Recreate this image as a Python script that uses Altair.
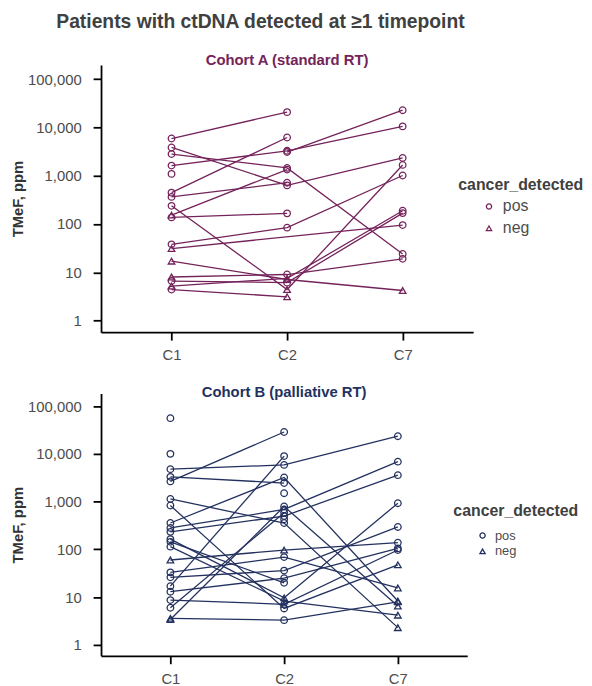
import altair as alt
import pandas as pd

TIMEPOINTS = ["C1", "C2", "C7"]

# Cohort A (standard RT): one entry per patient, None = no sample
A_C1 = [5890, 3850, 2810, 1620, 1090, 446, 364, 238, 153, 137, 38, 31, 17, 8.0, 6.6, 5.2, 4.4, None]
A_C2 = [20700, 630, 1450, 3280, None, 6180, 716, 4.4, 1340, 166, 84, None, 7.1, 9.0, 6.1, 7.5, 3.1, 3090]
A_C7 = [None, 2330, 24, 10500, None, None, None, 1670, None, None, 1010, 95, 4.2, 19, 168, 188, None, 22700]
A_S1 = ["pos", "pos", "pos", "pos", "pos", "pos", "pos", "pos", "neg", "pos", "pos", "neg", "neg", "neg", "pos", "neg", "pos", None]
A_S2 = ["pos", "pos", "pos", "pos", None, "pos", "pos", "neg", "pos", "pos", "pos", None, "neg", "pos", "pos", "neg", "neg", "pos"]
A_S7 = [None, "pos", "pos", "pos", None, None, None, "pos", None, None, "pos", "pos", "neg", "pos", "pos", "pos", None, "pos"]

# Cohort B (palliative RT)
B_C1 = [55900, 10000, 4780, 3310, 2650, 1140, 830, 357, 281, 233, 164, 144, 114, 60, 33, 26, 17, 13, 8.7, 6.0, 3.4, 3.6, None, None]
B_C2 = [None, None, 5870, 2450, 28700, 357, 5.8, 3200, 686, 499, 9.7, 20, 8.3, 97, 69, 36, 9000, 25, 7.1, 585, 792, 3.3, 1500, 426]
B_C7 = [None, None, 23400, None, None, 2.3, 47.5, 8.3, 6870, 3580, 927, None, 4.2, 138, 15.6, 295, None, 105, 97, None, 6.5, 8.0, None, None]
B_S1 = ["pos", "pos", "pos", "pos", "pos", "pos", "pos", "pos", "pos", "pos", "pos", "pos", "pos", "neg", "pos", "pos", "pos", "pos", "pos", "pos", "neg", "neg", None, None]
B_S2 = [None, None, "pos", "pos", "pos", "pos", "pos", "pos", "pos", "pos", "neg", "pos", "neg", "neg", "pos", "pos", "pos", "pos", "neg", "pos", "pos", "pos", "pos", "pos"]
B_S7 = [None, None, "pos", None, None, "neg", "neg", "neg", "pos", "pos", "pos", None, "neg", "pos", "neg", "pos", None, "pos", "pos", None, "neg", "neg", None, None]

MAROON = "#74235a"
NAVY = "#23315f"
FONT = "Liberation Sans"


def long_table(c1, c2, c7, s1, s2, s7):
    rows = []
    for i in range(len(c1)):
        for k, (vals, stats) in enumerate(((c1, s1), (c2, s2), (c7, s7))):
            if vals[i] is not None:
                rows.append({"patient": i, "tp": TIMEPOINTS[k], "order": k,
                             "value": vals[i], "status": stats[i]})
    return pd.DataFrame(rows)


def panel(df, color, title, w, h, ydom, title_offset, lx, ly, lab_size, row_pad, t_pad):
    x = alt.X("tp:O", sort=TIMEPOINTS,
              scale=alt.Scale(type="point", padding=0.61),
              axis=alt.Axis(title=None, labelAngle=0, labelFontSize=15, labelColor="#4d4d4d",
                            labelFont=FONT, tickSize=8, tickWidth=1.8, tickColor="black",
                            domainColor="black", domainWidth=1.8, labelPadding=8, grid=False))
    y = alt.Y("value:Q",
              scale=alt.Scale(type="log", domain=ydom, nice=False),
              axis=alt.Axis(title="TMeF, ppm", values=[1, 10, 100, 1000, 10000, 100000],
                            format=",", labelFontSize=15, labelColor="#4d4d4d", labelFont=FONT,
                            titleFont=FONT, titleFontSize=15, titleFontWeight="bold",
                            titleColor="#333333", titlePadding=2, tickSize=8, tickWidth=1.8,
                            tickColor="black", domainColor="black", domainWidth=1.8,
                            labelPadding=12, grid=False))
    base = alt.Chart(df)
    lines = base.mark_line(color=color, strokeWidth=1.3).encode(
        x=x, y=y, detail="patient:N", order="order:Q")
    pts = base.mark_point(filled=False, color=color, size=44, strokeWidth=1.3, opacity=1).encode(
        x=x, y=y,
        shape=alt.Shape("status:N",
                        scale=alt.Scale(domain=["pos", "neg"], range=["circle", "triangle-up"]),
                        legend=alt.Legend(title="cancer_detected", orient="none",
                                          legendX=lx, legendY=ly,
                                          titleFont=FONT, titleFontSize=16, titleFontWeight="bold",
                                          titleColor="#404040", labelFont=FONT,
                                          labelFontSize=lab_size, labelColor="#4d4d4d",
                                          symbolOffset=23, symbolSize=28,
                                          symbolStrokeColor=color, symbolFillColor="transparent",
                                          symbolStrokeWidth=1.3, rowPadding=row_pad,
                                          titlePadding=t_pad, labelOffset=6, padding=0)))
    return alt.layer(lines, pts).properties(
        width=w, height=h,
        title=alt.TitleParams(title, color=color, font=FONT, fontSize=15, fontWeight="bold",
                              baseline="alphabetic", offset=title_offset))


dfA = long_table(A_C1, A_C2, A_C7, A_S1, A_S2, A_S7)
dfB = long_table(B_C1, B_C2, B_C7, B_S1, B_S2, B_S7)

chartA = panel(dfA, MAROON, "Cohort A (standard RT)", 376, 270, [0.576, 196300], -15,
               361, 113, 16, 6, 6)
chartB = panel(dfB, NAVY, "Cohort B (palliative RT)", 370, 265, [0.592, 183300], -19,
               356, 111, 13, 2, 10)

chart = alt.vconcat(chartA, chartB, spacing=23).resolve_scale(
    x="independent", y="independent", shape="independent"
).resolve_legend(shape="independent").properties(
    title=alt.TitleParams("Patients with ctDNA detected at \u22651 timepoint",
                          font=FONT, fontSize=19.5, fontWeight="bold",
                          color="#404040", anchor="start", dx=46, offset=21),
    padding={"left": 2, "top": 0, "right": 0, "bottom": 0},
).configure_view(stroke=None)

chart.save("out.html", embed_options={"renderer": "svg", "actions": False})
